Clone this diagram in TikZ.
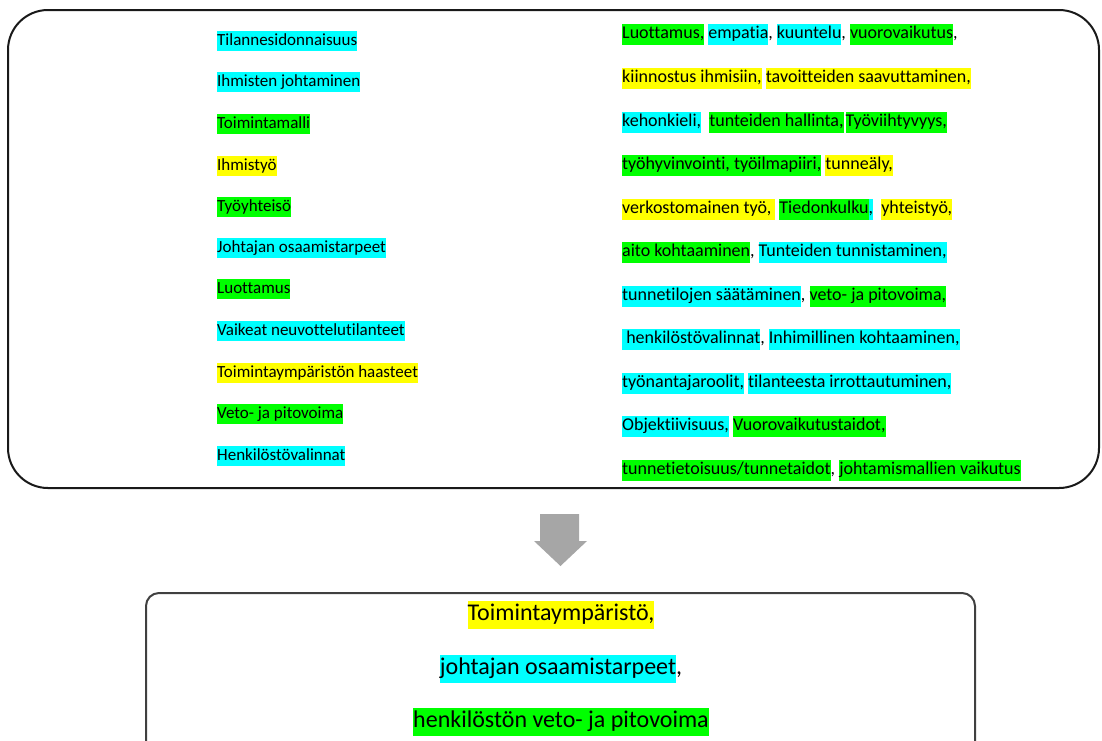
\documentclass[tikz,border=0pt]{standalone}
\usepackage{fontspec}
\setmainfont{Carlito}[Ligatures=NoCommon]
\usepackage{xcolor}
\definecolor{hlcyan}{RGB}{0,255,255}
\definecolor{hlgreen}{RGB}{0,255,0}
\definecolor{hlyellow}{RGB}{255,255,0}
\definecolor{arrowgray}{RGB}{166,166,166}
\definecolor{framegray}{RGB}{64,64,64}
\usetikzlibrary{positioning}
\usetikzlibrary{calc}

\newcommand{\hlc}[2]{{\setlength{\fboxsep}{0pt}\colorbox{#1}{\strut #2}}}
\newcommand{\rowfont}{\fontsize{17}{20.5}\selectfont}
\newcommand{\listfont}{\fontsize{18}{21}\selectfont}
\newcommand{\sumfont}{\fontsize{24}{28.5}\selectfont}

\tikzset{
    leftrow/.style={anchor=west, inner sep=0pt, font=\rowfont},
    rightrow/.style={anchor=west, inner sep=0pt, font=\listfont},
    sumrow/.style={anchor=center, inner sep=0pt, font=\sumfont},
    bigframe/.style={draw=black!90, line width=2pt, rounded corners=40pt},
    smallframe/.style={draw=framegray, line width=2pt, rounded corners=13pt}
}

\begin{document}
\begin{tikzpicture}[x=1pt, y=-1pt]

    \clip (0,0) rectangle (1102,740);

    \draw[bigframe] (8,10) rectangle (1099,488);

    % left column
    \node[leftrow] (l1)  at (217,41)  {\hlc{hlcyan}{Tilannesidonnaisuus}};
    \node[leftrow] (l2)  at (217,82)  {\hlc{hlcyan}{Ihmisten johtaminen}};
    \node[leftrow] (l3)  at (217,124) {\hlc{hlgreen}{Toimintamalli}};
    \node[leftrow] (l4)  at (217,166) {\hlc{hlyellow}{Ihmistyö}};
    \node[leftrow] (l5)  at (217,207) {\hlc{hlgreen}{Työyhteisö}};
    \node[leftrow] (l6)  at (217,248) {\hlc{hlcyan}{Johtajan osaamistarpeet}};
    \node[leftrow] (l7)  at (217,289) {\hlc{hlgreen}{Luottamus}};
    \node[leftrow] (l8)  at (217,331) {\hlc{hlcyan}{Vaikeat neuvottelutilanteet}};
    \node[leftrow] (l9)  at (217,373) {\hlc{hlyellow}{Toimintaympäristön haasteet}};
    \node[leftrow] (l10) at (217,414) {\hlc{hlgreen}{Veto- ja pitovoima}};
    \node[leftrow] (l11) at (217,456) {\hlc{hlcyan}{Henkilöstövalinnat}};

    % right column
    \node[rightrow] (r1)  at (622,34)  {\hlc{hlgreen}{Luottamus,} \hlc{hlcyan}{empatia}, \hlc{hlcyan}{kuuntelu}, \hlc{hlgreen}{vuorovaikutus},};
    \node[rightrow] (r2)  at (622,78)  {\hlc{hlyellow}{kiinnostus ihmisiin,} \hlc{hlyellow}{tavoitteiden saavuttaminen,}};
    \node[rightrow] (r3)  at (622,122) {\hlc{hlcyan}{kehonkieli,}\ \ \hlc{hlgreen}{tunteiden hallinta,}\hspace{2pt}\hlc{hlgreen}{Työviihtyvyys,}};
    \node[rightrow] (r4)  at (622,165) {\hlc{hlgreen}{työhyvinvointi, työilmapiiri,} \hlc{hlyellow}{tunneäly,}};
    \node[rightrow] (r5)  at (622,209) {\hlc{hlyellow}{verkostomainen työ,\ }\ \hlc{hlgreen}{Tiedonkulku}\hlc{hlcyan}{,}\ \ \hlc{hlyellow}{yhteistyö,}};
    \node[rightrow] (r6)  at (622,252) {\hlc{hlgreen}{aito kohtaaminen}, \hlc{hlcyan}{Tunteiden tunnistaminen,}};
    \node[rightrow] (r7)  at (622,296) {\hlc{hlcyan}{tunnetilojen säätäminen}, \hlc{hlgreen}{veto- ja pitovoima,}};
    \node[rightrow] (r8)  at (622,339) {\hlc{hlcyan}{\ henkilöstövalinnat}, \hlc{hlcyan}{Inhimillinen kohtaaminen,}};
    \node[rightrow] (r9)  at (622,383) {\hlc{hlcyan}{työnantajaroolit,} \hlc{hlcyan}{tilanteesta irrottautuminen,}};
    \node[rightrow] (r10) at (622,426) {\hlc{hlcyan}{Objektiivisuus,} \hlc{hlgreen}{Vuorovaikutustaidot,}};
    \node[rightrow] (r11) at (622,470) {\hlc{hlgreen}{tunnetietoisuus/tunnetaidot}, \hlc{hlgreen}{johtamismallien vaikutus}};

    \fill[arrowgray] (540,514) -- (579,514) -- (579,541) -- (587,541) -- (560.5,566) -- (534,541) -- (540,541) -- cycle;

    \draw[smallframe] (146,593) rectangle (975,770);

    \node[sumrow] (s1) at (561,615) {\hlc{hlyellow}{Toimintaympäristö,}};
    \node[sumrow] (s2) at (561,669) {\hlc{hlcyan}{johtajan osaamistarpeet},};
    \node[sumrow] (s3) at (561,722) {\hlc{hlgreen}{henkilöstön veto- ja pitovoima}};

\end{tikzpicture}
\end{document}
